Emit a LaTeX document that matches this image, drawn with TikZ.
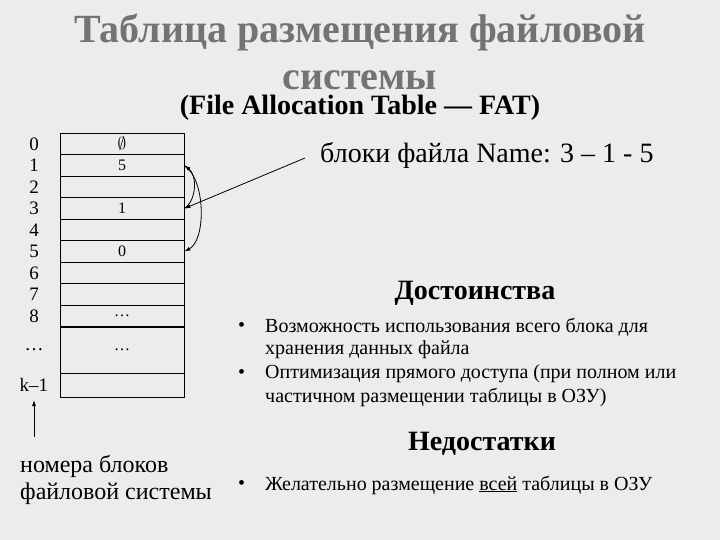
\documentclass[tikz,border=0pt]{standalone}
\usepackage{fontspec}
\setmainfont{Liberation Serif}
\usetikzlibrary{arrows.meta}
\begin{document}
\begin{tikzpicture}[x=1pt,y=-1pt,
  cell/.style={draw,thick,minimum width=124pt,minimum height=21.5pt,inner sep=0pt,font=\fontsize{16}{18}\selectfont},
  num/.style={font=\fontsize{19}{21}\selectfont,inner sep=0pt},
  body/.style={font=\fontsize{20}{24}\selectfont,anchor=west,inner sep=0pt},
  head/.style={font=\bfseries\fontsize{28}{32}\selectfont,inner sep=0pt},
  arr/.style={-{Latex[length=6pt,width=4pt]},thick}]
\fill[gray!15!white] (0,0) rectangle (720,540);
\useasboundingbox (0,0) rectangle (720,540);
\node[font=\bfseries\fontsize{40}{47}\selectfont,text=gray!90!black,align=center] (title) at (360,52) {Таблица размещения файловой\\системы};
\node[font=\bfseries\fontsize{28}{32}\selectfont,inner sep=0pt] (sub) at (360,108) {(File Allocation Table — FAT)};
% table
\foreach \i/\t in {0/$\emptyset$,1/5,2/,3/1,4/,5/0,6/,7/,8/\dots}{
  \node[cell] (r\i) at (122,{144+21.5*\i}) {\t};
  \node[num] (n\i) at (34,{144+21.5*\i}) {\i};
}
\node[cell,minimum height=46pt] (r9) at (122,350) {\dots};
\node[cell,minimum height=24pt] (r10) at (122,385) {};
\node[num] (n9) at (34,350) {\dots};
\node[num] (n10) at (34,385) {k–1};
\node[font=\fontsize{24}{27}\selectfont,align=left,anchor=west,inner sep=0pt] (lbl) at (20,480) {номера блоков\\файловой системы};
\coordinate (abot) at (34,437);
\draw[arr] (abot) -- (n10.south |- 0,400);
\node[font=\fontsize{28}{32}\selectfont,anchor=west,inner sep=0pt] (name) at (320,155) {блоки файла Name: 3 – 1 - 5};
\coordinate (nstart) at (305,158);
\draw[arr] (nstart) -- (r3.east);
\draw[arr] (r3.east) .. controls (197,200) and (197,175) .. (r1.east);
\draw[arr] (r1.east) .. controls (206,180) and (206,240) .. (r5.east);
% right side
\node[head] (dost) at (475,293) {Достоинства};
\node[body] (b1) at (238,327) {•};
\node[body] (b2) at (238,374) {•};
\node[body] (t1) at (265,327) {Возможность использования всего блока для};
\node[body] (t1b) at (265,350) {хранения данных файла};
\node[body] (t2) at (265,374) {Оптимизация прямого доступа (при полном или};
\node[body] (t2b) at (265,397) {частичном размещении таблицы в ОЗУ)};
\node[head] (ned) at (482,444) {Недостатки};
\node[body] (b3) at (238,485) {•};
\node[body] (t3) at (265,485) {Желательно размещение \underline{всей} таблицы в ОЗУ};
\end{tikzpicture}
\end{document}
